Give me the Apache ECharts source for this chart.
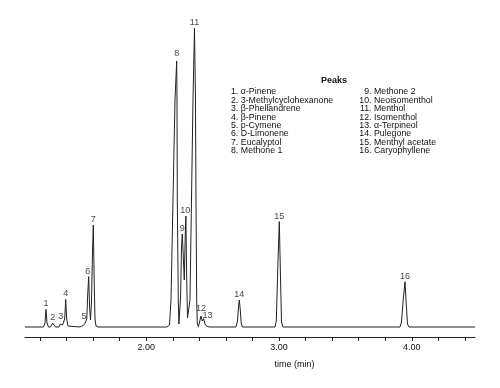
<!DOCTYPE html>
<html>
<head>
<meta charset="utf-8">
<script src="https://cdn.jsdelivr.net/npm/echarts@6/dist/echarts.min.js"></script>
<style>
html,body{margin:0;padding:0;background:#fff;}
#chart{width:500px;height:388px;}
</style>
</head>
<body>
<div id="chart"></div>
<script>
// Chromatogram trace: [time (min), signal]
const trace = [
[1.0874,0],
[1.2267,0],[1.2380,4],[1.2455,17.7],[1.2530,4],[1.2643,0],
[1.2794,0],[1.2869,2],[1.2959,4],[1.3057,2],[1.3170,0],
[1.3434,0],[1.3530,3],[1.3607,5],[1.3697,2],
[1.3773,1],[1.3863,8],[1.3938,27.7],[1.4014,8],[1.4112,1],[1.4262,0],
[1.5015,0],[1.5241,1.5],[1.5392,3.5],[1.5467,5],[1.5527,8],
[1.5587,30],[1.5670,50.3],[1.5738,20],[1.5806,7],
[1.5881,25],[1.5956,75],[1.6017,102],[1.6084,45],[1.6145,8],[1.6220,1],[1.6371,0],
[2.1566,0],[2.1755,2],[2.1867,27],[2.2018,127],[2.2169,227],[2.2297,266],[2.2319,227],[2.2342,127],[2.2417,27],[2.2462,3],
[2.2508,2],[2.2590,30],[2.2658,80],[2.2718,93],[2.2794,70],[2.2869,47],
[2.2937,90],[2.2989,111],[2.3042,55],[2.3110,9],
[2.3298,27],[2.3411,127],[2.3524,227],[2.3637,298.7],[2.3712,227],[2.3750,127],[2.3803,27],[2.3848,3],[2.3938,0.5],
[2.4014,2],[2.4127,11],[2.4224,6],[2.4322,8.5],[2.4428,3],[2.4578,0.5],[2.4804,0],
[2.6762,0],[2.6875,6],[2.6950,20],[2.7011,27],[2.7078,18],[2.7154,4],[2.7251,0],
[2.9699,0],[2.9797,6],[2.9910,60],[3.0023,105.3],[3.0113,50],[3.0188,5],[3.0301,0],
[3.9111,0],[3.9224,5],[3.9360,28],[3.9488,45.3],[3.9586,22],[3.9676,3],[3.9789,0],
[4.4759,0]
];

// Peak apexes (for the numbered labels)
const peakNumbers = ['1','2','3','4','5','6','7','8','9','10','11','12','13','14','15','16'];
const peakTimes   = [1.2455,1.2959,1.3607,1.3938,1.5467,1.5670,1.6017,2.2297,2.2718,2.2989,2.3637,2.4127,2.4322,2.7011,3.0023,3.9488];
const peakHeights = [17.7,4,5,27.7,5,50.3,102,266,93,111,298.7,11,8.5,27,105.3,45.3];

// Peak names
const peakNames = ['\u03b1-Pinene','3-Methylcyclohexanone','\u03b2-Phellandrene','\u03b2-Pinene','p-Cymene','D-Limonene','Eucalyptol','Methone 1',
                   'Methone 2','Neoisomenthol','Menthol','Isomenthol','\u03b1-Terpineol','Pulegone','Menthyl acetate','Caryophyllene'];

// Axis ticks
const tickValues  = [1.2,1.4,1.6,1.8,2.0,2.2,2.4,2.6,2.8,3.0,3.2,3.4,3.6,3.8,4.0,4.2,4.4];
const labelValues = [2,3,4];
const xMin = 1.0874, xMax = 4.4759;
const xTitle = 'time (min)';
const legendTitle = 'Peaks';

// ---- style (pixel offsets of individual peak labels) ----
const labelOffsets = {2:[-0.6,0],4:[-2,0],5:[-1,0],7:[0,-1.5],9:[-0.6,0],11:[0,-2],12:[4,3]};

const FONT = '"Liberation Sans", Arial, sans-serif';
const TXT = '#111';

const chart = echarts.init(document.getElementById('chart'), null, {renderer:'canvas'});

const labelData = peakTimes.map((t,i)=>({
  value:[t, peakHeights[i]],
  label:{offset: labelOffsets[i] || [0,0]}
}));

// legend graphics
const graphics = [];
graphics.push({type:'text', x:334, y:81, style:{text:legendTitle, font:'bold 9px '+FONT, fill:TXT, align:'center', verticalAlign:'middle'}});
const cols = [{numRight:238.3, nameLeft:240.8}, {numRight:371.5, nameLeft:374}];
peakNames.forEach((name,i)=>{
  const c = cols[i<8?0:1];
  const row = i%8;
  const y = 91.7 + row*8.47;
  graphics.push({type:'text', x:c.numRight, y:y, style:{text:peakNumbers[i]+'.', font:'8.8px '+FONT, fill:TXT, align:'right', verticalAlign:'middle'}});
  graphics.push({type:'text', x:c.nameLeft, y:y, style:{text:name, font:'8.8px '+FONT, fill:TXT, align:'left', verticalAlign:'middle'}});
});
graphics.push({type:'text', x:294.5, y:364.3, style:{text:xTitle, font:'9px '+FONT, fill:TXT, align:'center', verticalAlign:'middle'}});

chart.setOption({
  animation:false,
  backgroundColor:'#fff',
  grid:{left:25, right:25, top:17, bottom:51, containLabel:false},
  xAxis:{
    type:'value', min:xMin, max:xMax,
    axisLine:{show:true, onZero:false, lineStyle:{color:'#222', width:1}},
    axisTick:{show:true, customValues:tickValues, length:4, inside:false, lineStyle:{color:'#222', width:1}},
    axisLabel:{show:true, customValues:labelValues, formatter:(v)=>Number(v).toFixed(2), fontSize:9, fontFamily:FONT, color:TXT, margin:6},
    splitLine:{show:false}
  },
  yAxis:{type:'value', show:false, min:-10, max:310, splitLine:{show:false}},
  series:[
    {type:'line', data:trace, showSymbol:false, symbol:'none', lineStyle:{color:'#222', width:1}, clip:false, silent:true},
    {type:'scatter', data:labelData, symbolSize:0, silent:true, clip:false,
     label:{show:true, position:'top', distance:1, formatter:(p)=>peakNumbers[p.dataIndex], fontSize:9, fontFamily:FONT, color:TXT}}
  ],
  graphic:graphics
});
</script>
</body>
</html>
